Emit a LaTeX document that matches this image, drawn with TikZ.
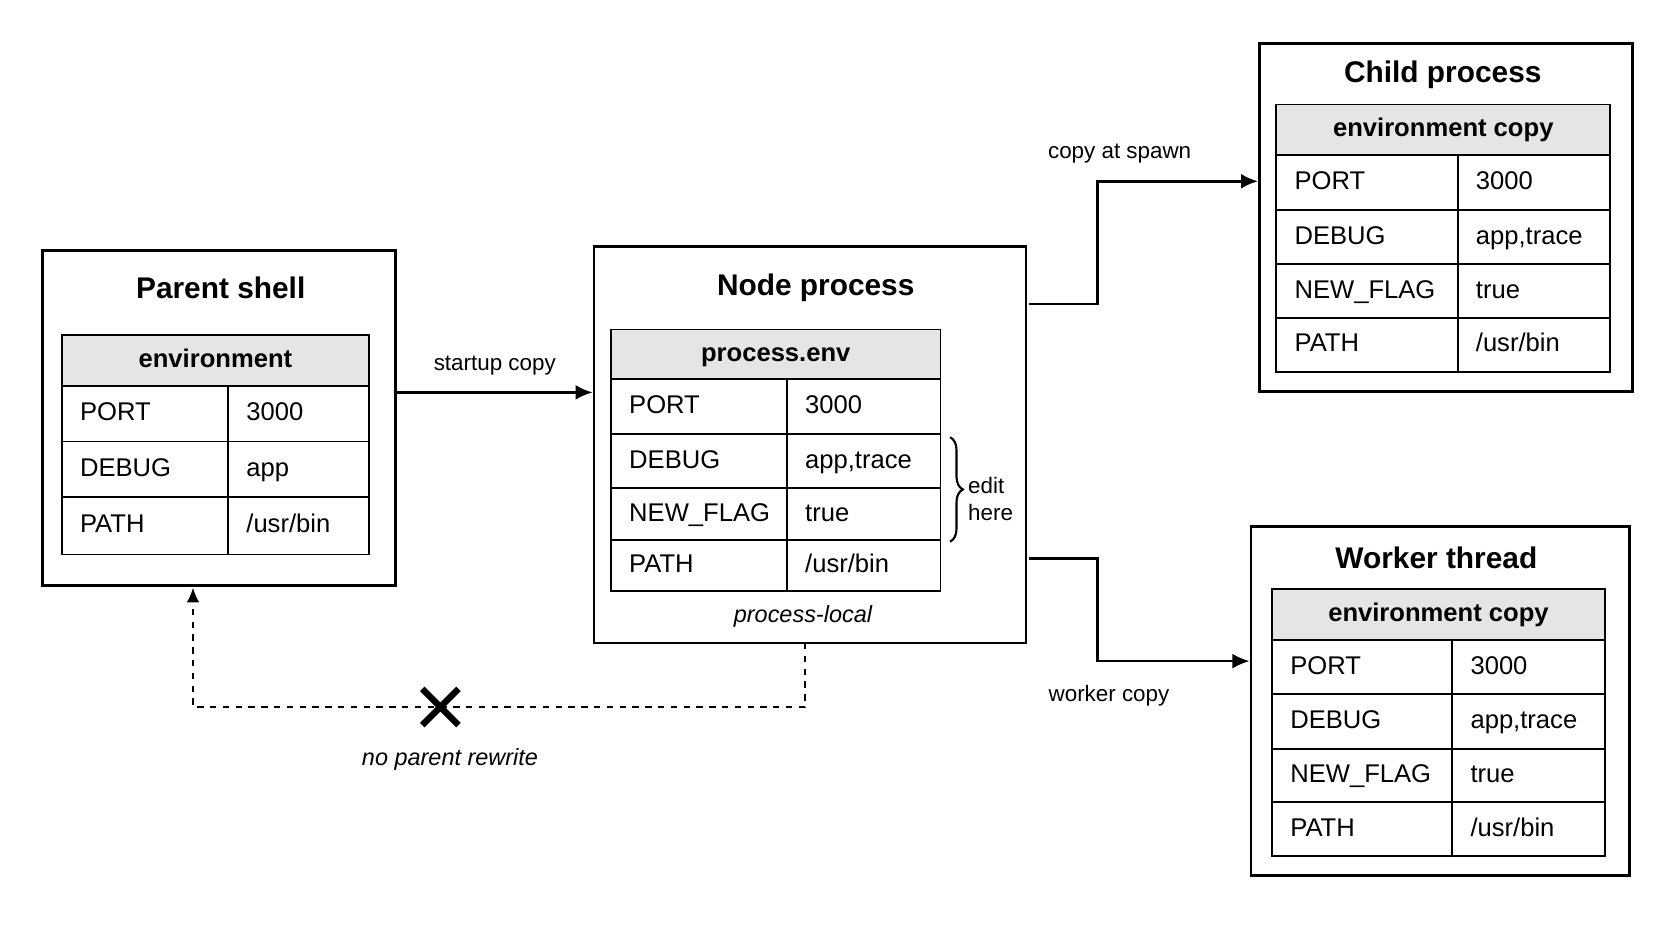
\documentclass[tikz,border=0pt]{standalone}
\usepackage{fontspec}
\setmainfont{Liberation Sans}
\usetikzlibrary{decorations.pathreplacing,arrows.meta}
\newcommand{\ub}{/usr/bin}
\begin{document}
\begin{tikzpicture}[x=0.5pt,y=-0.5pt,
  box/.style={draw,line width=1.2pt},
  cell/.style={draw,line width=0.9pt},
  hdr/.style={cell,fill=gray!20},
  txt/.style={font=\fontsize{12}{14}\selectfont,anchor=west,text height=1.7ex,text depth=0.45ex},
  ttl/.style={font=\bfseries\fontsize{14}{16}\selectfont},
  lbl/.style={font=\fontsize{10.5}{13}\selectfont},
  arr/.style={line width=1.2pt,-{Latex[length=8pt,width=7pt]}}]
\useasboundingbox (0,0) rectangle (1568,882);
\newcommand{\etable}[7]{%
  \draw[hdr] (#1,#5) rectangle (#3,#6);
  \node[font=\bfseries\fontsize{12}{14}\selectfont,text height=1.7ex,text depth=0.45ex] at ({(#1+#3)/2},{(#5+#6)/2}) {#4};
  \foreach \ya/\yb/\k/\v in {#7}{
    \draw[cell] (#1,\ya) rectangle (#2,\yb);
    \draw[cell] (#2,\ya) rectangle (#3,\yb);
    \node[txt] at (#1+10,{(\ya+\yb)/2}) {\k};
    \node[txt] at (#2+10,{(\ya+\yb)/2}) {\v};
  }}
% Parent shell
\node[box,minimum width=165.5pt,minimum height=157pt] (parent) at (205.5,392) {};
\node[ttl] (pt) at (207,270) {Parent shell};
\etable{58}{214}{346}{environment}{314}{362}{362/414/PORT/3000,414/466/DEBUG/app,466/520/PATH/\ub}
% Node process
\node[box,minimum width=202.5pt,minimum height=186pt] (node) at (759.5,417) {};
\node[ttl] at (765,270) {Node process};
\etable{573}{738}{882}{process.env}{309}{355}{355/407/PORT/3000,407/458/DEBUG/{app,trace},458/506/NEW\_FLAG/true,506/554/PATH/\ub}
\node[lbl,font=\itshape\fontsize{11}{13}\selectfont] (pl) at (753,578) {process-local};
\draw[line width=1pt,decorate,decoration={brace,amplitude=6pt}] (891,410) -- (891,508);
\node[lbl,align=left] (edit) at (929,468) {edit\\here};
% Child process
\node[box,minimum width=175pt,minimum height=163pt] (child) at (1356,204) {};
\node[ttl] at (1353,70) {Child process};
\etable{1197}{1367}{1510}{environment copy}{98}{145}{145/197/PORT/3000,197/248/DEBUG/{app,trace},248/298/NEW\_FLAG/true,298/349/PATH/\ub}
% Worker thread
\node[box,minimum width=177.5pt,minimum height=163.5pt] (worker) at (1350.5,657.5) {};
\node[ttl] at (1347,523) {Worker thread};
\etable{1193}{1362}{1505}{environment copy}{552}{600}{600/651/PORT/3000,651/702/DEBUG/{app,trace},702/752/NEW\_FLAG/true,752/803/PATH/\ub}
% connectors
\draw[arr] (parent.east |- 0,368) -- node[lbl,above=4pt]{startup copy} (node.west |- 0,368);
\coordinate (c1) at (965,285);
\coordinate (w1) at (965,524);
\draw[arr] (c1) -- (1029,285) -- (1029,170) -- (child.west |- 0,170);
\node[lbl] at (1050,144) {copy at spawn};
\draw[arr] (w1) -- (1029,524) -- (1029,620) -- (worker.west |- 0,620);
\node[lbl] at (1040,652) {worker copy};
\draw[line width=1pt,dashed,-{Latex[length=7pt,width=6pt]}] (755,603) -- (755,663) -- (181,663) -- (181,551);
\draw[line width=3pt] (396,646) -- (430,680) (396,680) -- (430,646);
\node[lbl,font=\itshape\fontsize{11}{13}\selectfont] at (422,712) {no parent rewrite};
\end{tikzpicture}
\end{document}
